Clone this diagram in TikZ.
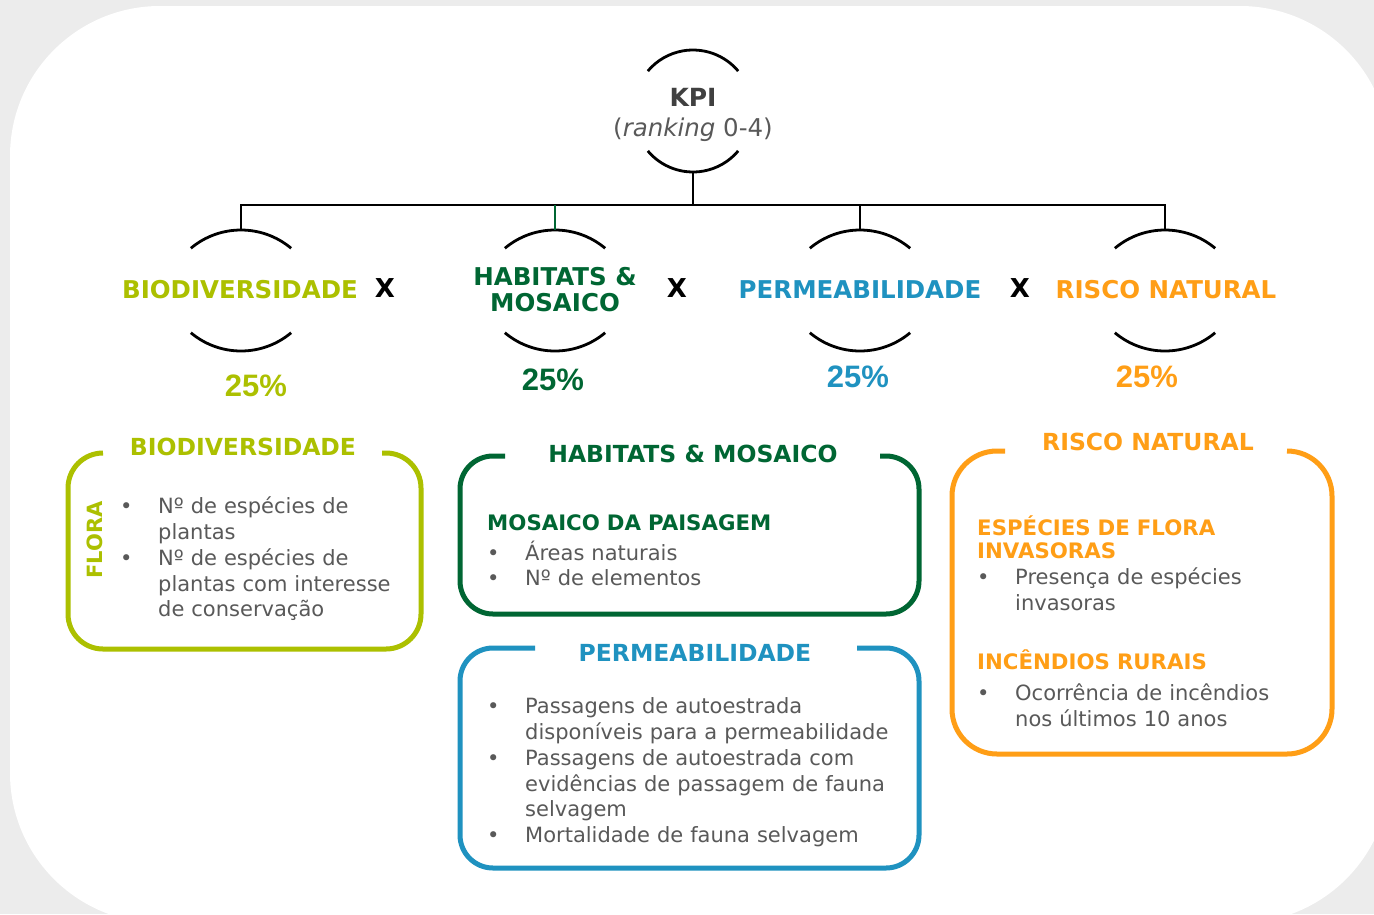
\documentclass[tikz,border=0pt]{standalone}
\usepackage{fontspec}
\setmainfont{DejaVu Sans}
\newfontfamily\pctfamily{Liberation Sans}
\definecolor{bggray}{RGB}{236,236,236}
\definecolor{biolime}{RGB}{172,192,0}
\definecolor{hgreen}{RGB}{0,102,51}
\definecolor{pblue}{RGB}{31,146,192}
\definecolor{rorange}{RGB}{255,158,22}
\definecolor{txtgray}{RGB}{89,89,89}
\definecolor{kpigray}{RGB}{64,64,64}
\newcommand{\bodyfont}{\fontsize{21}{25.7}\selectfont}
\newcommand{\subfont}{\fontsize{21.3}{23}\selectfont\bfseries}
\newcommand{\kbullet}[1]{\par\hangindent=38pt\hangafter=1\noindent\makebox[38pt][l]{\textbullet}#1}
\begin{document}
\begin{tikzpicture}[x=1pt,y=1pt,
    arcline/.style={line width=2.8pt,black},
    link/.style={line width=2.8pt,black},
    cat/.style={font=\fontsize{24.5}{26}\selectfont\bfseries,align=center,inner sep=0},
    pct/.style={font=\pctfamily\fontsize{31}{33}\selectfont\bfseries,inner sep=0},
    times/.style={font=\fontsize{26}{28}\selectfont\bfseries,inner sep=0},
    panel/.style={line width=5pt,rounded corners=#1},
    ptitle/.style={font=\fontsize{23.5}{26}\selectfont\bfseries,inner sep=0},
    plist/.style={anchor=north west,inner sep=0,text width=#1,align=left,font=\bodyfont,text=txtgray}]
        %% Background
        \useasboundingbox (0,0) rectangle (1374,-914);
        \fill[bggray] (0,0) rectangle (1374,-914);
        \begin{scope}
            \clip (0,0) rectangle (1374,-914);
            \fill[white,rounded corners=150] (10,-6) rectangle (1390,-923);
        \end{scope}
        %% KPI
        \node[align=center,inner sep=0,text=txtgray,font=\fontsize{24.5}{30}\selectfont] (kpi) at (693,-115)
            {{\fontsize{25}{30}\selectfont\bfseries\color{kpigray}KPI}\\(\textit{ranking} 0-4)};
        \draw[arcline] (693,-109) ++(40:59) arc[start angle=40,end angle=140,radius=59];
        \draw[arcline] (693,-113) ++(220:59) arc[start angle=220,end angle=320,radius=59];
        \foreach \cx in {241,555,860,1165} {
            \draw[arcline] (\cx,-308) ++(50:78) arc[start angle=50,end angle=130,radius=78];
            \draw[arcline] (\cx,-273) ++(230:78) arc[start angle=230,end angle=310,radius=78];
        }
        %% Tree
        \coordinate (kpiB) at (693,-172);
        \coordinate (bar) at (693,-205);
        \coordinate (bioT) at (241,-230);
        \coordinate (habT) at (555,-230);
        \coordinate (perT) at (860,-230);
        \coordinate (risT) at (1165,-230);
        \draw[link] (kpiB) -- (bar);
        \draw[link] (bioT) -- (bioT |- bar) -- (risT |- bar) -- (risT);
        \draw[link] (perT) -- (perT |- bar);
        \draw[link,hgreen] (habT) -- (habT |- bar);
        %% Categories
        \node[cat,text=biolime] (bio) at (240,-290) {BIODIVERSIDADE};
        \node[cat,text=hgreen] (hab) at (555,-290) {HABITATS \&\\MOSAICO};
        \node[cat,text=pblue] (per) at (860,-290) {PERMEABILIDADE};
        \node[cat,text=rorange] (ris) at (1166,-290) {RISCO NATURAL};
        \node[times] (x1) at (385,-288) {X};
        \node[times] (x2) at (677,-288) {X};
        \node[times] (x3) at (1020,-288) {X};
        \node[pct,text=biolime] (bioP) at (256,-386) {25\%};
        \node[pct,text=hgreen] (habP) at (553,-380) {25\%};
        \node[pct,text=pblue] (perP) at (858,-377) {25\%};
        \node[pct,text=rorange] (risP) at (1147,-377) {25\%};
        %% Panels
        \draw[panel=35,biolime] (382,-453) -- (421,-453) -- (421,-649) -- (68,-649) -- (68,-453) -- (103,-453);
        \node[ptitle,text=biolime] (bioTitle) at (243,-447) {BIODIVERSIDADE};
        \node[rotate=90,inner sep=0,font=\fontsize{21}{21}\selectfont\bfseries,text=biolime] (flora) at (95,-540) {FLORA};
        \node[plist=290pt] (bioList) at (120,-488)
            {\kbullet{Nº de espécies de\newline plantas}\kbullet{Nº de espécies de\newline plantas com interesse\newline de conservação}\par};
        \draw[panel=33,hgreen] (880,-456) -- (919,-456) -- (919,-614) -- (460,-614) -- (460,-456) -- (505,-456);
        \node[ptitle,text=hgreen] (habTitle) at (693,-454) {HABITATS \& MOSAICO};
        \node[plist=400pt] (habList) at (487,-514)
            {\noindent{\subfont\color{hgreen}MOSAICO DA PAISAGEM\par}\vspace{4.3pt}\kbullet{Áreas naturais}\kbullet{Nº de elementos}\par};
        \draw[panel=33,pblue] (857,-648) -- (919,-648) -- (919,-868) -- (460,-868) -- (460,-648) -- (535,-648);
        \node[ptitle,text=pblue] (perTitle) at (695,-653) {PERMEABILIDADE};
        \node[plist=420pt] (perList) at (487,-688)
            {\kbullet{Passagens de autoestrada\newline disponíveis para a permeabilidade}\kbullet{Passagens de autoestrada com\newline evidências de passagem de fauna\newline selvagem}\kbullet{Mortalidade de fauna selvagem}\par};
        \draw[panel=45,rorange] (1287,-451) -- (1332,-451) -- (1332,-754) -- (952,-754) -- (952,-451) -- (1005,-451);
        \node[ptitle,text=rorange] (risTitle) at (1148,-442) {RISCO NATURAL};
        \node[plist=340pt] (risList) at (977,-516)
            {\noindent{\subfont\color{rorange}ESPÉCIES DE FLORA\newline INVASORAS\par}\kbullet{Presença de espécies\newline invasoras}\par\vspace{36pt}\noindent{\subfont\color{rorange}INCÊNDIOS RURAIS\par}\vspace{5.3pt}\kbullet{Ocorrência de incêndios\newline nos últimos 10 anos}\par};
\end{tikzpicture}
\end{document}
